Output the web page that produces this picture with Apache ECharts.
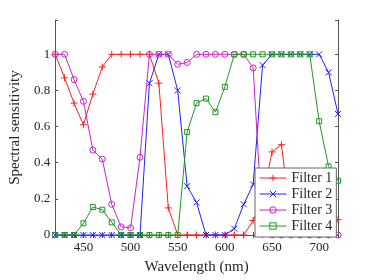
<!DOCTYPE html>
<html>
<head>
<meta charset="utf-8">
<script src="https://cdn.jsdelivr.net/npm/echarts@6/dist/echarts.min.js"></script>
<style>html,body{margin:0;padding:0;background:#fff}#c{width:374px;height:280px}</style>
</head>
<body>
<div id="c"></div>
<script>
var wavelengths = [420,430,440,450,460,470,480,490,500,510,520,530,540,550,560,570,580,590,600,610,620,630,640,650,660,670,680,690,700,710,720];
var filter1 = [1,0.87,0.73,0.61,0.78,0.93,1,1,1,1,1,0.84,0.15,0,0,0,0,0,0,0,0,0.08,0.2,0.46,0.5,0.08,0.05,0.06,0.08,0.03,0.085];
var filter2 = [0,0,0,0,0,0,0,0,0,0,0.84,1,1,0.8,0.27,0.18,0,0,0,0.035,0.17,0.28,0.94,1,1,1,1,1,1,0.9,0.67];
var filter3 = [1,1,0.86,0.74,0.47,0.42,0.17,0.045,0.04,0.43,1,1,1,0.945,0.955,1,1,1,1,1,1,0.925,0.035,0,0,0,0,0,0,0,0];
var filter4 = [0,0,0,0.065,0.155,0.14,0.07,0,0,0,0,0,0,0,0.57,0.73,0.755,0.68,0.82,1,1,1,1,1,1,1,1,1,0.63,0.38,0.3];
var seriesNames = ['Filter 1','Filter 2','Filter 3','Filter 4'];
var yTickLabels = ['0','0.2','0.4','0.6','0.8','1'];
var xTickLabels = ['450','500','550','600','650','700'];

var font = 'Liberation Serif';
var colors = ['#ff2020','#2020ff','#cc22cc','#229922'];
var symbols = [
  'path://M5,0L5,10M0,5L10,5',
  'path://M0,0L10,10M10,0L0,10',
  'path://M10,5A5,5 0 1,1 0,5A5,5 0 1,1 10,5Z',
  'path://M0,0L10,0L10,10L0,10Z'
];
var sizes = [7,6,6,5];
var datas = [filter1,filter2,filter3,filter4];

function pairs(arr){ return wavelengths.map(function(w,i){return [w,arr[i]];}); }

var series = datas.map(function(d,i){
  return {
    name: seriesNames[i], type:'line', data: pairs(d),
    symbol: symbols[i], symbolSize: sizes[i], showAllSymbol:true,
    lineStyle:{color:colors[i], width:1},
    itemStyle:{color:'none', borderColor:colors[i], borderWidth:1},
    emphasis:{disabled:true}, animation:false, z: 2+i
  };
});

var axisCol = '#555';
var labelCol = '#262626';
var chart = echarts.init(document.getElementById('c'), null, {renderer:'canvas'});
chart.setOption({
  animation:false,
  grid:{left:48,right:36,top:20,bottom:40,containLabel:false},
  xAxis:[{
    type:'value', min:420, max:720, interval:10, position:'bottom',
    name:'Wavelength (nm)', nameLocation:'middle', nameGap:25,
    nameTextStyle:{fontFamily:font,fontSize:15,color:labelCol},
    axisLine:{lineStyle:{color:axisCol,width:1}},
    axisTick:{inside:true,length:3,lineStyle:{color:axisCol}},
    axisLabel:{fontFamily:font,fontSize:13,color:labelCol,margin:6,
      formatter:function(v){var s=String(v);return xTickLabels.indexOf(s)>=0?s:'';}},
    splitLine:{show:false}
  },{
    type:'value', min:420, max:720, interval:10, position:'top',
    axisLine:{lineStyle:{color:axisCol,width:1}},
    axisTick:{inside:true,length:3,lineStyle:{color:axisCol}},
    axisLabel:{show:false}, splitLine:{show:false}
  }],
  yAxis:[{
    type:'value', min:0, max:1.19, interval:0.2, position:'left',
    name:'Spectral sensitivity', nameLocation:'middle', nameGap:28,
    nameTextStyle:{fontFamily:font,fontSize:15,color:labelCol},
    axisLine:{show:true,lineStyle:{color:axisCol,width:1}},
    axisTick:{inside:true,length:3,lineStyle:{color:axisCol}},
    axisLabel:{fontFamily:font,fontSize:13,color:labelCol,margin:5,
      formatter:function(v){var s=String(Math.round(v*10)/10);return yTickLabels.indexOf(s)>=0 && v<1.05?s:'';}},
    splitLine:{show:false}
  },{
    type:'value', min:0, max:1.19, interval:0.2, position:'right',
    axisLine:{show:true,lineStyle:{color:axisCol,width:1}},
    axisTick:{inside:true,length:3,lineStyle:{color:axisCol}},
    axisLabel:{show:false}, splitLine:{show:false}
  }],
  legend:{
    data: seriesNames, orient:'vertical', left:255, top:168,
    backgroundColor:'#fff', borderColor:'#666', borderWidth:1,
    padding:[3,4,4,4], itemGap:2, itemWidth:27, itemHeight:8,
    itemStyle:{borderWidth:1},
    lineStyle:{width:1},
    textStyle:{fontFamily:font,fontSize:14,color:labelCol,padding:[0,0,0,0]},
    z: 20
  },
  series: series
});
</script>
</body>
</html>
